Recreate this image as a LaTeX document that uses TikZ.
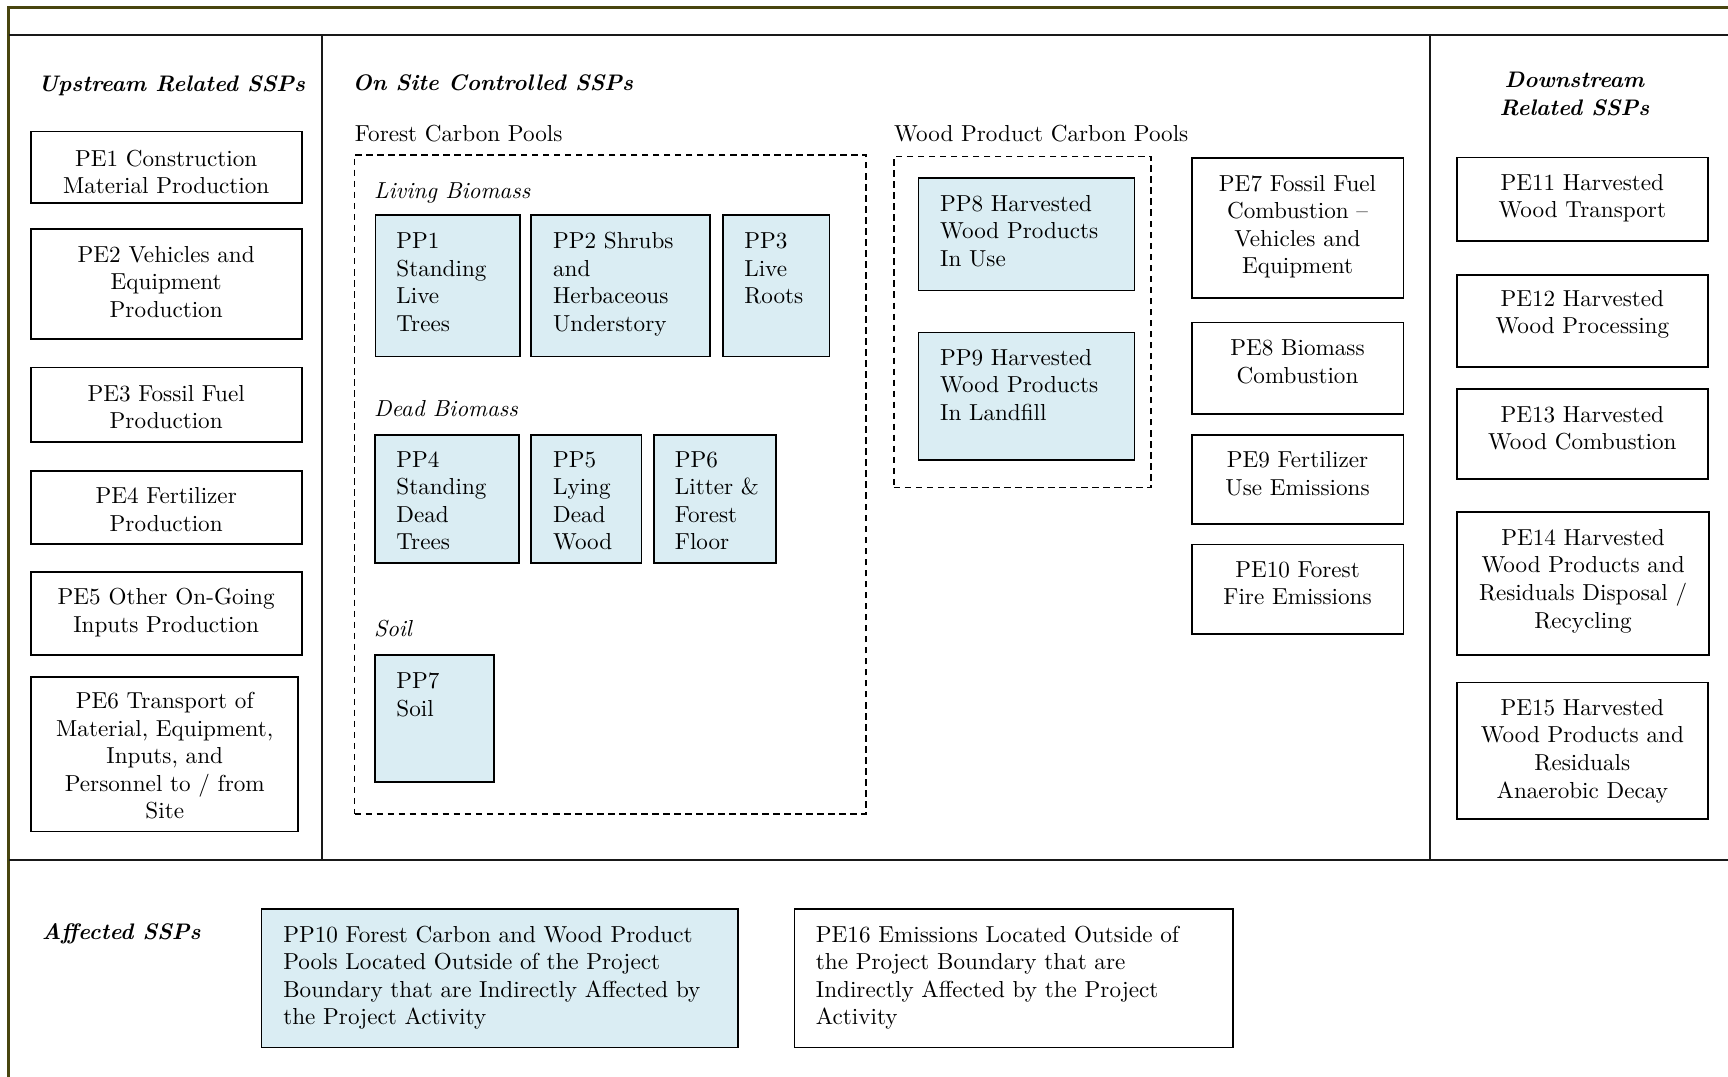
\documentclass[tikz,border=0pt]{standalone}
\usetikzlibrary{fit}
\definecolor{ppfill}{HTML}{DAEDF3}
\definecolor{frameol}{HTML}{48450F}
\begin{document}
\begin{tikzpicture}[x=0.5pt,y=-0.5pt,
  box/.style={draw=black, line width=0.8pt, inner sep=0pt, rectangle},
  ppbox/.style={box, fill=ppfill},
  dashbox/.style={draw=black, line width=0.7pt, dash pattern=on 3pt off 2pt, inner sep=0pt, rectangle},
  txt/.style={font=\fontsize{10.5}{12.5}\selectfont, inner sep=0pt, align=center, anchor=north},
  ltxt/.style={font=\fontsize{10.5}{12.5}\selectfont, inner sep=0pt, align=left, anchor=north west},
  lbl/.style={font=\fontsize{10.5}{12.5}\selectfont, inner sep=0pt, anchor=base west},
  ilbl/.style={lbl, font=\fontsize{10.5}{12.5}\selectfont\itshape},
  head/.style={font=\fontsize{10.2}{12.5}\selectfont\bfseries\itshape, inner sep=0pt},
  frame/.style={draw=frameol, line width=1.3pt},
  divider/.style={draw=black!90, line width=0.9pt}
]
\useasboundingbox (0,0) rectangle (1568,977);
\clip (0,0) rectangle (1568,977);

% frame and dividers
\draw[frame] (8,990) -- (8,6.5) -- (1580,6.5);
\draw[divider] (8,31.8) -- (1580,31.8);
\draw[divider] (292,31.8) -- (292,780.3);
\draw[divider] (1297.6,31.8) -- (1297.6,780.3);
\draw[divider] (8,780.3) -- (1580,780.3);

% headings
\node[head, anchor=base] (hup) at (155.8,83.2) {Upstream Related SSPs};
\node[head, anchor=base west] (hon) at (319.5,82.3) {On Site Controlled SSPs};
\node[head, anchor=north, align=center] (hdown) at (1428.6,61.7) {\strut Downstream\\Related SSPs};
\node[head, anchor=base west] (haff) at (37.5,852.9) {Affected SSPs};

% upstream column
\node[box, fit={(28,119.4) (273.8,183.9)}] (pe1) {};
\node[txt] (pe1t) at (150.8,132.8) {\strut PE1 Construction\\Material Production};
\node[box, fit={(28,207.8) (273.8,307.8)}] (pe2) {};
\node[txt] (pe2t) at (150.8,219.9) {\strut PE2 Vehicles and\\Equipment\\Production};
\node[box, fit={(28,333.4) (273.8,400.8)}] (pe3) {};
\node[txt] (pe3t) at (150.8,346.1) {\strut PE3 Fossil Fuel\\Production};
\node[box, fit={(28,427.1) (273.8,493.6)}] (pe4) {};
\node[txt] (pe4t) at (150.8,439.2) {\strut PE4 Fertilizer\\Production};
\node[box, fit={(28,518.7) (273.8,594.3)}] (pe5) {};
\node[txt] (pe5t) at (150.8,530.6) {\strut PE5 Other On-Going\\Inputs Production};
\node[box, fit={(28,614) (270.7,754.6)}] (pe6) {};
\node[txt] (pe6t) at (149.5,625.2) {\strut PE6 Transport of\\Material, Equipment,\\Inputs, and\\Personnel to / from\\Site};

% forest carbon pools
\node[lbl] (fcp) at (321.7,128.5) {Forest Carbon Pools};
\node[dashbox, fit={(321.7,140.6) (786,738.6)}] (fcpbox) {};
\node[ilbl] (lb) at (339,180) {Living Biomass};
\node[ppbox, fit={(340.7,195) (471.7,323.6)}] (pp1) {};
\node[ltxt] (pp1t) at (359.3,207.8) {\strut PP1\\Standing\\Live\\Trees};
\node[ppbox, fit={(482,195) (644.4,323.6)}] (pp2) {};
\node[ltxt] (pp2t) at (501.5,207.8) {\strut PP2 Shrubs\\and\\Herbaceous\\Understory};
\node[ppbox, fit={(656,195) (752.7,323.6)}] (pp3) {};
\node[ltxt] (pp3t) at (675,207.8) {\strut PP3\\Live\\Roots};
\node[ilbl] (db) at (339,378.1) {Dead Biomass};
\node[ppbox, fit={(340.5,394.7) (471.2,510.6)}] (pp4) {};
\node[ltxt] (pp4t) at (359.3,406) {\strut PP4\\Standing\\Dead\\Trees};
\node[ppbox, fit={(482,394.7) (582,510.6)}] (pp5) {};
\node[ltxt] (pp5t) at (501.5,406) {\strut PP5\\Lying\\Dead\\Wood};
\node[ppbox, fit={(593.4,394.7) (704.4,510.6)}] (pp6) {};
\node[ltxt] (pp6t) at (612,406) {\strut PP6\\Litter \&\\Forest\\Floor};
\node[ilbl] (sl) at (339,577.7) {Soil};
\node[ppbox, fit={(340.5,594.3) (448.3,709.9)}] (pp7) {};
\node[ltxt] (pp7t) at (359.3,607.1) {\strut PP7\\Soil};

% wood product carbon pools
\node[lbl] (wcp) at (811,128.5) {Wood Product Carbon Pools};
\node[dashbox, fit={(811,142.1) (1044.6,442.5)}] (wcpbox) {};
\node[ppbox, fit={(833.4,161.8) (1029.4,263.7)}] (pp8) {};
\node[ltxt] (pp8t) at (852.7,173.6) {\strut PP8 Harvested\\Wood Products\\In Use};
\node[ppbox, fit={(833.4,301.8) (1029.4,417.4)}] (pp9) {};
\node[ltxt] (pp9t) at (852.7,313.5) {\strut PP9 Harvested\\Wood Products\\In Landfill};

% on-site emission sources
\node[box, fit={(1081.3,143.6) (1273.6,270.6)}] (pe7) {};
\node[txt] (pe7t) at (1177.4,155.5) {\strut PE7 Fossil Fuel\\Combustion --\\Vehicles and\\Equipment};
\node[box, fit={(1081.3,292.7) (1273.6,376)}] (pe8) {};
\node[txt] (pe8t) at (1177.4,304.8) {\strut PE8 Biomass\\Combustion};
\node[box, fit={(1081.3,394.7) (1273.6,475.8)}] (pe9) {};
\node[txt] (pe9t) at (1177.4,406.6) {\strut PE9 Fertilizer\\Use Emissions};
\node[box, fit={(1081.3,494) (1273.6,575.6)}] (pe10) {};
\node[txt] (pe10t) at (1177.4,505.8) {\strut PE10 Forest\\Fire Emissions};

% downstream column
\node[box, fit={(1322,143) (1549.6,218.6)}] (pe11) {};
\node[txt] (pe11t) at (1435.8,154.9) {\strut PE11 Harvested\\Wood Transport};
\node[box, fit={(1322,249.5) (1549.6,332.7)}] (pe12) {};
\node[txt] (pe12t) at (1435.8,260.1) {\strut PE12 Harvested\\Wood Processing};
\node[box, fit={(1322,353.3) (1549.6,434.7)}] (pe13) {};
\node[txt] (pe13t) at (1435.8,365.1) {\strut PE13 Harvested\\Wood Combustion};
\node[box, fit={(1322,464.3) (1551,594.3)}] (pe14) {};
\node[txt] (pe14t) at (1436.5,477) {\strut PE14 Harvested\\Wood Products and\\Residuals Disposal /\\Recycling};
\node[box, fit={(1322,619.4) (1549.6,743.4)}] (pe15) {};
\node[txt] (pe15t) at (1435.8,631.3) {\strut PE15 Harvested\\Wood Products and\\Residuals\\Anaerobic Decay};

% affected
\node[ppbox, fit={(237.3,825) (669.4,950.6)}] (pp10) {};
\node[ltxt] (pp10t) at (256.7,836.9) {\strut PP10 Forest Carbon and Wood Product\\Pools Located Outside of the Project\\Boundary that are Indirectly Affected by\\the Project Activity};
\node[box, fit={(721,825) (1118.6,950.6)}] (pe16) {};
\node[ltxt] (pe16t) at (740,836.9) {\strut PE16 Emissions Located Outside of\\the Project Boundary that are\\Indirectly Affected by the Project\\Activity};
\end{tikzpicture}
\end{document}
